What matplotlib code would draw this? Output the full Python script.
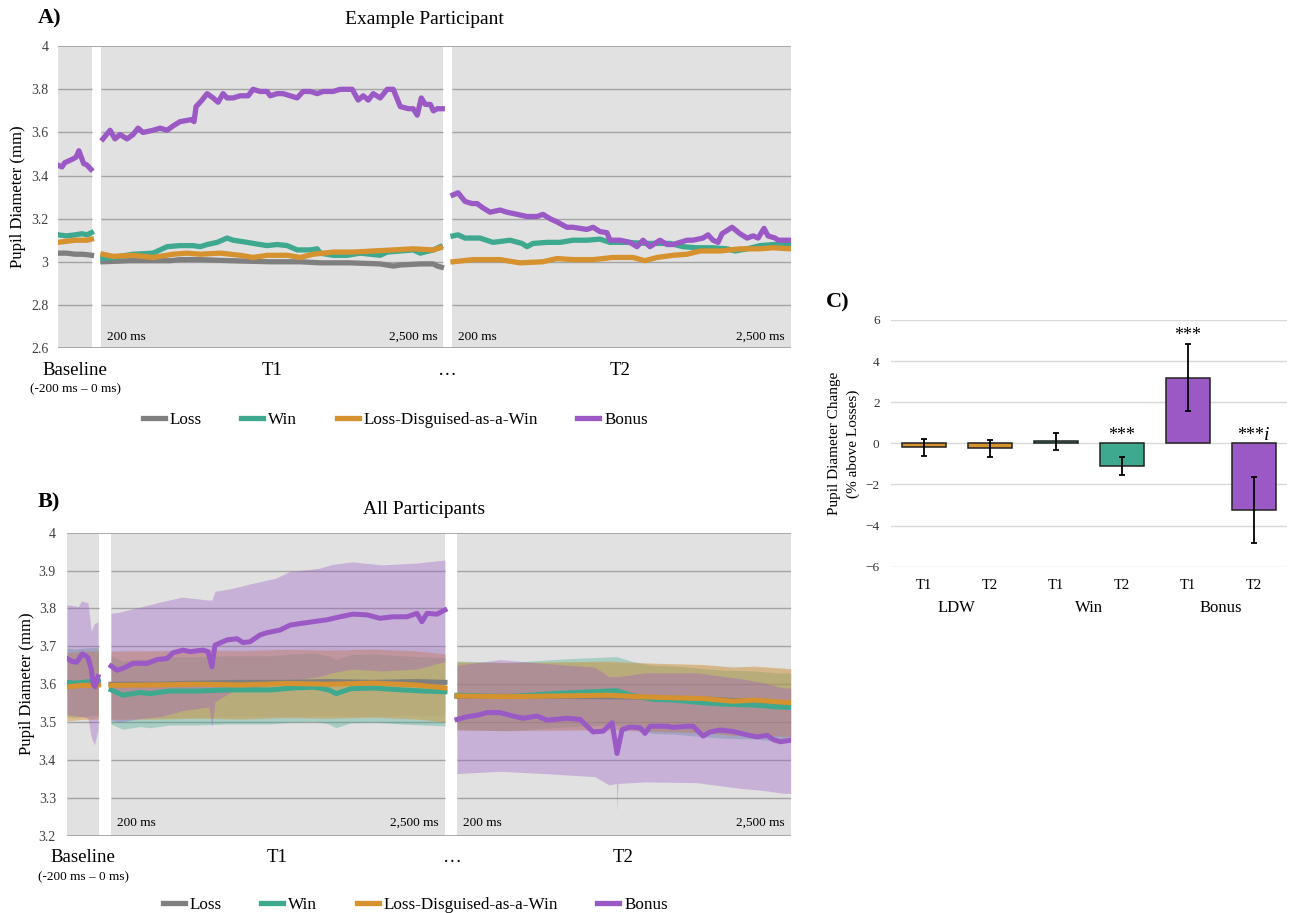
import matplotlib
matplotlib.use("Agg")
import matplotlib.pyplot as plt
from matplotlib.lines import Line2D
from matplotlib.ticker import FuncFormatter
import numpy as np

plt.rcParams["font.family"] = ["Liberation Serif", "DejaVu Serif"]

# ---------------- data (pupil diameter, mm; time in ms) ----------------
SERIES = ["Loss", "Win", "Loss-Disguised-as-a-Win", "Bonus"]

# Panel A - example participant
a_base_ms = [-200, -150, -100, -60, -30, -5]
a_base_loss = [3.04, 3.04, 3.035, 3.035, 3.033, 3.03]
a_base_win = [3.125, 3.12, 3.125, 3.13, 3.125, 3.135]
a_base_ldw = [3.09, 3.095, 3.10, 3.10, 3.10, 3.105]
a_base_bonus_ms = [-200, -177, -160, -118, -95, -78, -62, -50, -33, -8]
a_base_bonus = [3.448, 3.44, 3.46, 3.475, 3.485, 3.515, 3.48, 3.455, 3.45, 3.429]

a_t1_loss_ms = [213, 395, 664, 731, 866, 1068, 1337, 1538, 1673, 1874, 2076, 2164, 2211, 2345, 2433, 2460, 2487]
a_t1_loss = [3.00, 3.005, 3.005, 3.01, 3.01, 3.005, 3.00, 3.00, 2.995, 2.995, 2.99, 2.98, 2.985, 2.99, 2.99, 2.98, 2.975]
a_t1_win_ms = [213, 281, 415, 550, 644, 731, 819, 866, 913, 980, 1047, 1088, 1182, 1269, 1316, 1384,
               1451, 1518, 1606, 1653, 1673, 1760, 1854, 1942, 2009, 2076, 2123, 2211, 2298, 2345, 2433, 2480]
a_t1_win = [3.015, 3.02, 3.035, 3.04, 3.07, 3.075, 3.075, 3.07, 3.08, 3.09, 3.11, 3.10, 3.09, 3.08, 3.075, 3.08,
            3.075, 3.055, 3.055, 3.06, 3.04, 3.03, 3.03, 3.04, 3.035, 3.03, 3.045, 3.05, 3.055, 3.04, 3.055, 3.07]
a_t1_ldw_ms = [213, 281, 415, 550, 684, 778, 866, 1000, 1135, 1222, 1316, 1451, 1538, 1626, 1760, 1895,
               2029, 2164, 2298, 2433, 2480]
a_t1_ldw = [3.035, 3.025, 3.03, 3.02, 3.035, 3.04, 3.035, 3.04, 3.03, 3.02, 3.03, 3.03, 3.02, 3.035, 3.045, 3.045,
            3.05, 3.055, 3.06, 3.055, 3.065]
a_t1_bonus_ms = [213, 261, 294, 328, 375, 415, 449, 482, 550, 597, 644, 684, 731, 812, 825, 839, 879, 913, 953,
                 987, 1020, 1047, 1088, 1135, 1189, 1222, 1269, 1316, 1337, 1384, 1424, 1471, 1518, 1558, 1606,
                 1653, 1693, 1760, 1807, 1888, 1928, 1962, 1996, 2029, 2076, 2123, 2164, 2211, 2265, 2298, 2325,
                 2352, 2379, 2413, 2433, 2460, 2493]
a_t1_bonus = [3.57, 3.61, 3.57, 3.59, 3.57, 3.59, 3.62, 3.60, 3.61, 3.62, 3.61, 3.63, 3.65, 3.66, 3.65, 3.72, 3.75,
              3.78, 3.76, 3.74, 3.78, 3.76, 3.76, 3.77, 3.77, 3.80, 3.79, 3.79, 3.77, 3.78, 3.78, 3.77, 3.76, 3.79,
              3.79, 3.78, 3.79, 3.79, 3.80, 3.80, 3.75, 3.77, 3.75, 3.78, 3.76, 3.80, 3.80, 3.72, 3.71, 3.71, 3.68,
              3.76, 3.73, 3.73, 3.70, 3.71, 3.71]

a_t2_win_ms = [209, 243, 290, 392, 480, 596, 677, 711, 752, 847, 935, 1023, 1118, 1206, 1274, 1389, 1525, 1681,
               1769, 1864, 1973, 2068, 2122, 2204, 2292, 2381, 2496]
a_t2_win = [3.12, 3.125, 3.11, 3.11, 3.09, 3.10, 3.085, 3.07, 3.085, 3.09, 3.09, 3.10, 3.10, 3.105, 3.09, 3.09,
            3.085, 3.085, 3.07, 3.065, 3.065, 3.06, 3.05, 3.06, 3.075, 3.08, 3.08]
a_t2_ldw_ms = [209, 344, 528, 663, 819, 914, 1023, 1159, 1294, 1430, 1511, 1593, 1702, 1797, 1885, 2021, 2156,
               2292, 2381, 2496]
a_t2_ldw = [3.00, 3.01, 3.01, 2.995, 3.00, 3.015, 3.01, 3.01, 3.02, 3.02, 3.005, 3.02, 3.03, 3.035, 3.05, 3.05,
            3.06, 3.06, 3.065, 3.06]
a_t2_bonus_ms = [209, 243, 290, 338, 372, 412, 460, 528, 575, 643, 711, 779, 819, 867, 914, 982, 1023, 1070,
                 1118, 1159, 1206, 1253, 1274, 1342, 1410, 1457, 1498, 1545, 1613, 1661, 1702, 1749, 1797, 1837,
                 1905, 1939, 1973, 2007, 2034, 2102, 2156, 2204, 2245, 2279, 2319, 2346, 2394, 2415, 2496]
a_t2_bonus = [3.31, 3.32, 3.28, 3.27, 3.27, 3.25, 3.23, 3.24, 3.23, 3.22, 3.21, 3.21, 3.22, 3.20, 3.185, 3.16,
              3.16, 3.155, 3.15, 3.16, 3.14, 3.135, 3.10, 3.10, 3.09, 3.07, 3.10, 3.07, 3.10, 3.08, 3.08, 3.09,
              3.10, 3.10, 3.11, 3.125, 3.10, 3.09, 3.13, 3.16, 3.13, 3.11, 3.12, 3.11, 3.155, 3.12, 3.11, 3.10, 3.10]

# Panel B - all participants (means and 95% CI)
b_base_ms = [-200, -150, -100, -50, -5]
b_base_loss = [3.602, 3.60, 3.603, 3.60, 3.602]
b_base_win = [3.605, 3.603, 3.605, 3.607, 3.608]
b_base_ldw = [3.593, 3.595, 3.597, 3.597, 3.598]
b_base_bonus_ms = [-200, -170, -140, -105, -85, -70, -50, -38, -25, -8]
b_base_bonus = [3.668, 3.66, 3.658, 3.68, 3.675, 3.67, 3.64, 3.60, 3.593, 3.62]
b_base_band_ms = [-200, -130, -110, -70, -50, -30, -8]
b_base_bonus_hi = [3.81, 3.805, 3.82, 3.815, 3.74, 3.76, 3.765]
b_base_bonus_lo = [3.52, 3.515, 3.515, 3.51, 3.46, 3.44, 3.48]

b_t1_ms = [200, 500, 800, 1100, 1400, 1700, 2000, 2300, 2500]
b_t1_loss = [3.600, 3.600, 3.603, 3.605, 3.605, 3.607, 3.605, 3.607, 3.605]
b_t1_ldw = [3.597, 3.598, 3.600, 3.598, 3.602, 3.600, 3.603, 3.598, 3.590]
b_t1_win_ms = [200, 280, 400, 470, 600, 800, 1000, 1300, 1450, 1600, 1700, 1750, 1850, 2000, 2200, 2350, 2500]
b_t1_win = [3.585, 3.571, 3.578, 3.575, 3.582, 3.582, 3.585, 3.585, 3.59, 3.592, 3.585, 3.575, 3.588, 3.59,
            3.585, 3.582, 3.58]
b_t1_bonus_ms = [200, 241, 283, 351, 448, 517, 586, 627, 696, 744, 834, 868, 895, 916, 999, 1068, 1109, 1157,
                 1226, 1274, 1364, 1433, 1501, 1591, 1687, 1777, 1866, 1963, 2052, 2142, 2238, 2307, 2341, 2376,
                 2445, 2500]
b_t1_bonus = [3.648, 3.637, 3.642, 3.655, 3.655, 3.665, 3.668, 3.683, 3.69, 3.686, 3.69, 3.686, 3.646, 3.703,
              3.717, 3.72, 3.71, 3.712, 3.73, 3.736, 3.743, 3.756, 3.76, 3.765, 3.77, 3.778, 3.785, 3.783, 3.774,
              3.778, 3.778, 3.787, 3.765, 3.787, 3.785, 3.796]
b_t1_band_ms = [200, 255, 414, 551, 689, 875, 895, 916, 1034, 1171, 1336, 1426, 1632, 1722, 1859, 2066, 2307, 2500]
b_t1_bonus_hi = [3.787, 3.79, 3.805, 3.818, 3.83, 3.822, 3.822, 3.845, 3.853, 3.866, 3.88, 3.897, 3.906, 3.916,
                 3.923, 3.915, 3.92, 3.928]
b_t1_bonus_lo = [3.505, 3.50, 3.51, 3.515, 3.53, 3.54, 3.487, 3.555, 3.58, 3.59, 3.60, 3.61, 3.62, 3.63, 3.64,
                 3.635, 3.64, 3.66]

b_t2_loss_ms = [202, 900, 1450, 1900, 2500]
b_t2_loss = [3.568, 3.568, 3.566, 3.561, 3.55]
b_t2_win_ms = [202, 550, 900, 1300, 1400, 1550, 1700, 1900, 2050, 2250, 2400, 2500]
b_t2_win = [3.571, 3.567, 3.576, 3.583, 3.571, 3.56, 3.558, 3.551, 3.547, 3.545, 3.54, 3.539]
b_t2_ldw_ms = [202, 550, 900, 1250, 1450, 1700, 1900, 2100, 2250, 2500]
b_t2_ldw = [3.569, 3.567, 3.569, 3.571, 3.567, 3.564, 3.562, 3.555, 3.558, 3.551]
b_t2_bonus_ms = [202, 271, 340, 409, 498, 588, 657, 753, 822, 960, 1049, 1139, 1208, 1270, 1304, 1339, 1394,
                 1463, 1497, 1532, 1649, 1690, 1787, 1828, 1897, 1945, 2014, 2104, 2200, 2269, 2338, 2379, 2428, 2500]
b_t2_bonus = [3.507, 3.514, 3.518, 3.525, 3.525, 3.516, 3.51, 3.516, 3.505, 3.51, 3.507, 3.474, 3.476, 3.498,
              3.417, 3.48, 3.487, 3.485, 3.47, 3.489, 3.489, 3.486, 3.489, 3.489, 3.463, 3.474, 3.479, 3.475,
              3.466, 3.461, 3.465, 3.454, 3.448, 3.452]
b_t2_band_ms = [202, 500, 800, 1150, 1250, 1300, 1304, 1310, 1500, 1850, 2150, 2300, 2450, 2500]
b_t2_bonus_hi = [3.65, 3.665, 3.655, 3.645, 3.62, 3.62, 3.62, 3.62, 3.63, 3.63, 3.615, 3.605, 3.59, 3.59]
b_t2_bonus_lo = [3.364, 3.37, 3.364, 3.356, 3.334, 3.338, 3.263, 3.338, 3.342, 3.34, 3.325, 3.32, 3.312, 3.312]

# CI half width for the non-bonus conditions
b_ci_half = 0.09

# Panel C - change relative to losses (%)
c_groups = ["LDW", "Win", "Bonus"]
c_windows = ["T1", "T2", "T1", "T2", "T1", "T2"]
c_values = [-0.2, -0.25, 0.1, -1.1, 3.2, -3.25]
c_errors = [0.4, 0.4, 0.42, 0.43, 1.65, 1.6]
c_sig = ["", "", "", "***", "***", "***"]

# ---------------- styling ----------------
C_LOSS = "#7f7f7f"
C_WIN = "#3ea98f"
C_LDW = "#d6922f"
C_BONUS = "#9b59c6"
GRAY_BG = "#e1e1e1"
GRID = "#a3a3a3"

W, H = 1291, 913


def fx(x):
    return x / W


def fy(y):
    return 1 - y / H


MS_RANGE = {"base": (-200, 0), "T1": (200, 2500), "T2": (200, 2500)}


def to_px(ms, seg, layout):
    a, b = layout[seg]
    m0, m1 = MS_RANGE[seg]
    return a + (np.asarray(ms, float) - m0) / (m1 - m0) * (b - a)


def setup_panel(ax, layout, ylo, yhi, step, pad):
    left, right = layout["base"][0], layout["T2"][1]
    ax.set_xlim(left, right)
    ax.set_ylim(ylo, yhi)
    ticks = np.round(np.arange(ylo, yhi + step / 2, step), 2)
    for a, b in layout.values():
        ax.axvspan(a, b, color=GRAY_BG, zorder=0, lw=0)
        ax.hlines(ticks[1:-1], a, b, color=GRID, lw=1, zorder=1)
    ax.hlines([ylo, yhi], left, right, color=GRID, lw=1.3, zorder=2)
    for s in ax.spines.values():
        s.set_visible(False)
    ax.set_xticks([])
    ax.set_yticks(ticks)
    ax.yaxis.set_major_formatter(FuncFormatter(lambda v, p: f"{v:g}"))
    ax.tick_params(axis="y", length=0, labelsize=10, labelcolor="#404040", pad=pad)


def line(ax, layout, seg, ms, vals, color, lw, z):
    ax.plot(to_px(ms, seg, layout), vals, color=color, lw=lw, zorder=z, solid_joinstyle="round")


def band(ax, layout, seg, ms, lo, hi, color, alpha, z):
    ax.fill_between(to_px(ms, seg, layout), lo, hi, color=color, alpha=alpha, lw=0, zorder=z)


def window_labels(layout, y_in, y_lab, y_sub, x_base, x_t1, x_dots, x_t2):
    for seg in ["T1", "T2"]:
        a, b = layout[seg]
        fig.text(fx(a + 6), fy(y_in), "200 ms", fontsize=9.5, ha="left", va="center")
        fig.text(fx(b - 6), fy(y_in), "2,500 ms", fontsize=9.5, ha="right", va="center")
    fig.text(fx(x_base), fy(y_lab), "Baseline", fontsize=13.5, ha="center", va="center")
    fig.text(fx(x_base), fy(y_sub), "(-200 ms \u2013 0 ms)", fontsize=9.5, ha="center", va="center")
    fig.text(fx(x_t1), fy(y_lab), "T1", fontsize=13.5, ha="center", va="center")
    fig.text(fx(x_dots), fy(y_lab), "\u2026", fontsize=13.5, ha="center", va="center")
    fig.text(fx(x_t2), fy(y_lab), "T2", fontsize=13.5, ha="center", va="center")


def legend(x_left, y):
    handles = [Line2D([], [], color=c, lw=3.8) for c in [C_LOSS, C_WIN, C_LDW, C_BONUS]]
    fig.legend(handles, SERIES, loc="center left", bbox_to_anchor=(fx(x_left), fy(y)), ncol=4,
               frameon=False, fontsize=12.3, handlelength=1.28, handletextpad=0.3, columnspacing=2.3,
               borderpad=0, borderaxespad=0)


fig = plt.figure(figsize=(12.91, 9.13), dpi=100)

# ---------------- panel A ----------------
lay_a = {"base": (58, 92.3), "T1": (101, 443.3), "T2": (451.7, 790.7)}
ax_a = fig.add_axes([fx(58), fy(348), (790.7 - 58) / W, (348 - 46.2) / H])
setup_panel(ax_a, lay_a, 2.6, 4.0, 0.2, 7)
lw_a = 3.8
line(ax_a, lay_a, "base", a_base_ms, a_base_loss, C_LOSS, lw_a, 3)
line(ax_a, lay_a, "base", a_base_ms, a_base_win, C_WIN, lw_a, 4)
line(ax_a, lay_a, "base", a_base_ms, a_base_ldw, C_LDW, lw_a, 5)
line(ax_a, lay_a, "base", a_base_bonus_ms, a_base_bonus, C_BONUS, lw_a, 6)
line(ax_a, lay_a, "T1", a_t1_loss_ms, a_t1_loss, C_LOSS, lw_a, 3)
line(ax_a, lay_a, "T1", a_t1_win_ms, a_t1_win, C_WIN, lw_a, 4)
line(ax_a, lay_a, "T1", a_t1_ldw_ms, a_t1_ldw, C_LDW, lw_a, 5)
line(ax_a, lay_a, "T1", a_t1_bonus_ms, a_t1_bonus, C_BONUS, lw_a, 6)
line(ax_a, lay_a, "T2", a_t2_win_ms, a_t2_win, C_WIN, lw_a, 4)
line(ax_a, lay_a, "T2", a_t2_ldw_ms, a_t2_ldw, C_LDW, lw_a, 5)
line(ax_a, lay_a, "T2", a_t2_bonus_ms, a_t2_bonus, C_BONUS, lw_a, 6)

fig.text(fx(38), fy(18), "A)", fontsize=16, fontweight="bold", ha="left", va="center")
fig.text(fx(424), fy(20), "Example Participant", fontsize=14, ha="center", va="center")
fig.text(fx(18), fy(197), "Pupil Diameter (mm)", fontsize=12, rotation=90, ha="center", va="center")
window_labels(lay_a, 337, 370, 389, 75, 272, 447, 620)
legend(143, 420)

# ---------------- panel B ----------------
lay_b = {"base": (67, 99.3), "T1": (111, 445), "T2": (456.7, 790.7)}
ax_b = fig.add_axes([fx(67), fy(835.7), (790.7 - 67) / W, (835.7 - 532.7) / H])
setup_panel(ax_b, lay_b, 3.2, 4.0, 0.1, 8)
lw_b = 3.6

for seg, ms_l, loss, ms_w, win, ms_d, ldw in [
        ("base", b_base_ms, b_base_loss, b_base_ms, b_base_win, b_base_ms, b_base_ldw),
        ("T1", b_t1_ms, b_t1_loss, b_t1_win_ms, b_t1_win, b_t1_ms, b_t1_ldw),
        ("T2", b_t2_loss_ms, b_t2_loss, b_t2_win_ms, b_t2_win, b_t2_ldw_ms, b_t2_ldw)]:
    for ms, vals, col, alpha, z in [(ms_w, win, C_WIN, 0.35, 2.3), (ms_l, loss, C_LOSS, 0.12, 2.4),
                                    (ms_d, ldw, C_LDW, 0.45, 2.5)]:
        v = np.asarray(vals)
        band(ax_b, lay_b, seg, ms, v - b_ci_half, v + b_ci_half, col, alpha, z)

band(ax_b, lay_b, "base", b_base_band_ms, b_base_bonus_lo, b_base_bonus_hi, C_BONUS, 0.35, 2.6)
band(ax_b, lay_b, "T1", b_t1_band_ms, b_t1_bonus_lo, b_t1_bonus_hi, C_BONUS, 0.35, 2.6)
band(ax_b, lay_b, "T2", b_t2_band_ms, b_t2_bonus_lo, b_t2_bonus_hi, C_BONUS, 0.35, 2.6)

line(ax_b, lay_b, "base", b_base_ms, b_base_loss, C_LOSS, lw_b, 3)
line(ax_b, lay_b, "base", b_base_ms, b_base_win, C_WIN, lw_b, 4)
line(ax_b, lay_b, "base", b_base_ms, b_base_ldw, C_LDW, lw_b, 5)
line(ax_b, lay_b, "base", b_base_bonus_ms, b_base_bonus, C_BONUS, lw_b, 6)
line(ax_b, lay_b, "T1", b_t1_ms, b_t1_loss, C_LOSS, lw_b, 3)
line(ax_b, lay_b, "T1", b_t1_win_ms, b_t1_win, C_WIN, lw_b, 4)
line(ax_b, lay_b, "T1", b_t1_ms, b_t1_ldw, C_LDW, lw_b, 5)
line(ax_b, lay_b, "T1", b_t1_bonus_ms, b_t1_bonus, C_BONUS, lw_b, 6)
line(ax_b, lay_b, "T2", b_t2_loss_ms, b_t2_loss, C_LOSS, lw_b, 3)
line(ax_b, lay_b, "T2", b_t2_win_ms, b_t2_win, C_WIN, lw_b, 4)
line(ax_b, lay_b, "T2", b_t2_ldw_ms, b_t2_ldw, C_LDW, lw_b, 5)
line(ax_b, lay_b, "T2", b_t2_bonus_ms, b_t2_bonus, C_BONUS, lw_b, 6)

fig.text(fx(38), fy(502), "B)", fontsize=16, fontweight="bold", ha="left", va="center")
fig.text(fx(424), fy(509), "All Participants", fontsize=14, ha="center", va="center")
fig.text(fx(27), fy(684), "Pupil Diameter (mm)", fontsize=12, rotation=90, ha="center", va="center")
window_labels(lay_b, 823, 857, 877, 83, 277, 452, 623)
legend(163, 905)

# ---------------- panel C ----------------
ax_c = fig.add_axes([fx(890.7), fy(566.7), (1286.7 - 890.7) / W, (566.7 - 320) / H])
x = np.arange(len(c_values))
group_colors = {"LDW": C_LDW, "Win": C_WIN, "Bonus": C_BONUS}
bar_colors = [group_colors[g] for g in c_groups for _ in range(2)]
ax_c.bar(x, c_values, width=0.67, color=bar_colors, edgecolor="#222222", lw=1.1, zorder=3)
ax_c.errorbar(x, c_values, yerr=c_errors, fmt="none", ecolor="black", elinewidth=1.3,
              capsize=2.5, capthick=1.3, zorder=4)
ax_c.set_xlim(-0.5, len(c_values) - 0.5)
ax_c.set_ylim(-6, 6)
ax_c.set_yticks(range(-6, 7, 2))
for t in range(-6, 7, 2):
    ax_c.axhline(t, color="#d9d9d9", lw=1, zorder=0)
for s in ax_c.spines.values():
    s.set_visible(False)
ax_c.set_xticks(x)
ax_c.set_xticklabels(c_windows)
ax_c.tick_params(axis="x", length=0, labelsize=10.5, pad=9)
ax_c.tick_params(axis="y", length=0, labelsize=9.5, labelcolor="#333333", pad=8)
ax_c.set_ylabel("Pupil Diameter Change\n(% above Losses)", fontsize=11, linespacing=1.5, labelpad=4)
for i, g in enumerate(c_groups):
    ax_c.text(2 * i + 0.5, -8.0, g, fontsize=12, ha="center", va="center")
for i, (v, e, s) in enumerate(zip(c_values, c_errors, c_sig)):
    if not s:
        continue
    y = max(0, v + e) + 0.16
    if i == len(c_values) - 1:
        ax_c.text(i - 0.05, y, s, fontsize=13, ha="center", va="baseline")
        ax_c.text(i + 0.16, y, "i", fontsize=14, style="italic", ha="left", va="baseline")
    else:
        ax_c.text(i, y, s, fontsize=13, ha="center", va="baseline")
fig.text(fx(826), fy(302), "C)", fontsize=16, fontweight="bold", ha="left", va="center")

fig.savefig("out.png", dpi=100)
